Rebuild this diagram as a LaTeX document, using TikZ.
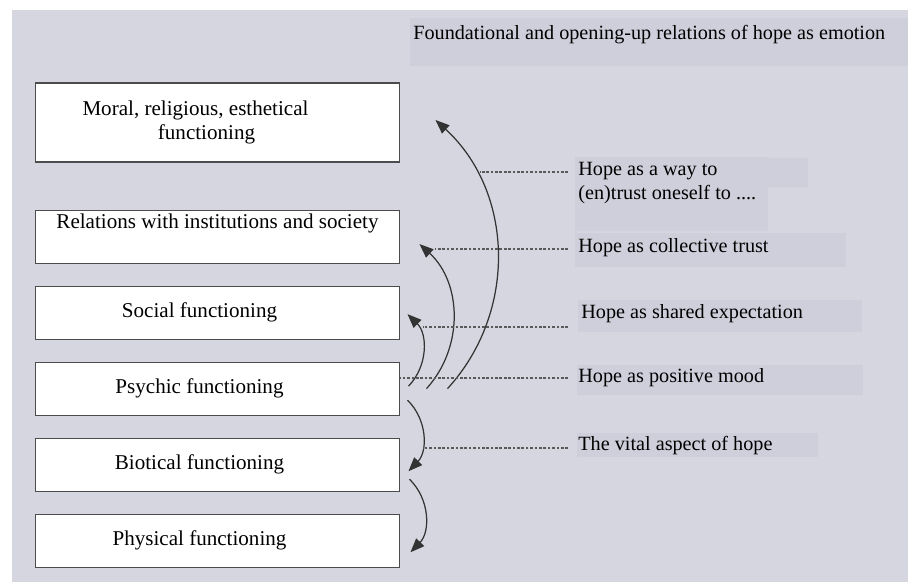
\documentclass[tikz,border=0pt]{standalone}
\usepackage{fontspec}
\setmainfont{Liberation Serif}
\usetikzlibrary{positioning, arrows.meta}
\definecolor{paper}{RGB}{214,214,224}
\definecolor{tagbg}{RGB}{207,207,219}

\begin{document}
\begin{tikzpicture}[x=0.02cm, y=-0.02cm, font=\fontsize{11.5}{13.5}\selectfont,
	level/.style={draw=black!70, line width=0.6pt, fill=white, minimum width=7.3cm, minimum height=1.06cm, inner sep=0.08cm, font=\fontsize{12}{13.5}\selectfont},
	offcentre/.style={execute at end node={\hspace*{0.72cm}}},
	lift/.style={-{Triangle[length=0.28cm,width=0.22cm]}, draw=black!80, line width=0.7pt},
	leader/.style={draw=black!65, line width=0.6pt, dash pattern=on 1.5pt off 1pt},
	tag/.style={inner sep=0pt, anchor=base west}]
	\useasboundingbox (0,0) rectangle (914,582);
	% scanned page and the shaded strips behind the texts
	\fill[paper] (12,10) rectangle (908,582);
	\fill[tagbg] (410,18) rectangle (908,66);
	\fill[tagbg] (575,157) rectangle (768,231) (768,158) rectangle (808,187);
	\fill[tagbg] (575,233) rectangle (846,267);
	\fill[tagbg] (578,300) rectangle (862,332);
	\fill[tagbg] (577,365) rectangle (863,395);
	\fill[tagbg] (577,433) rectangle (818,457);

	\node[tag] (title) at (413,39) {Foundational and opening-up relations of hope as emotion};

	\node[level, minimum height=1.58cm, align=center] (moral) at (217.5,122.5) {Moral, religious, esthetical\hspace*{0.88cm}\\functioning\hspace*{0.44cm}};
	\node[level, below=0.94cm of moral, text height=8pt, text depth=0.62cm] (inst) {Relations with institutions and society};
	\node[level, offcentre, below=0.44cm of inst] (social) {Social functioning};
	\node[level, offcentre, below=0.44cm of social] (psychic) {Psychic functioning};
	\node[level, offcentre, below=0.44cm of psychic] (biotic) {Biotical functioning};
	\node[level, offcentre, below=0.44cm of biotic] (physic) {Physical functioning};

	\node[inner sep=0pt, anchor=north west, align=left] (trust) at (578,162) {Hope as a way to\\(en)trust oneself to ....};
	\node[tag] (collect) at (578,252) {Hope as collective trust};
	\node[tag] (shared) at (581,318) {Hope as shared expectation};
	\node[tag] (mood) at (578,382) {Hope as positive mood};
	\node[tag] (vital) at (578,450) {The vital aspect of hope};

	% opening-up (upwards) and foundational (downwards) relations
	\draw[lift] ([xshift=0.94cm]psychic.east) to[bend right=45] ([xshift=0.7cm,yshift=0.05cm]moral.east);
	\draw[lift] ([xshift=0.52cm]psychic.east) to[bend right=45] ([xshift=0.38cm,yshift=-0.15cm]inst.east);
	\draw[lift] ([xshift=0.16cm,yshift=0.05cm]psychic.east) to[bend right=45] ([xshift=0.14cm,yshift=-0.03cm]social.east);
	\draw[lift] ([xshift=0.14cm,yshift=-0.23cm]psychic.east) to[bend left=45] ([xshift=0.16cm,yshift=-0.13cm]biotic.east);
	\draw[lift] ([xshift=0.18cm,yshift=-0.29cm]biotic.east) to[bend left=45] ([xshift=0.2cm,yshift=-0.23cm]physic.east);

	\draw[leader] ([xshift=-0.2cm,yshift=-0.2cm]trust.north west) -- ++(-88,0);
	\draw[leader] ([xshift=-0.2cm,yshift=0.06cm]collect.base west) -- ++(-133,0);
	\draw[leader] ([xshift=-0.26cm,yshift=-0.18cm]shared.base west) -- ++(-145,0);
	\draw[leader] ([xshift=-0.2cm,yshift=0.08cm]mood.base west) -- ++(-168,0);
	\draw[leader] ([xshift=-0.2cm,yshift=0.04cm]vital.base west) -- ++(-145,0);
\end{tikzpicture}
\end{document}
